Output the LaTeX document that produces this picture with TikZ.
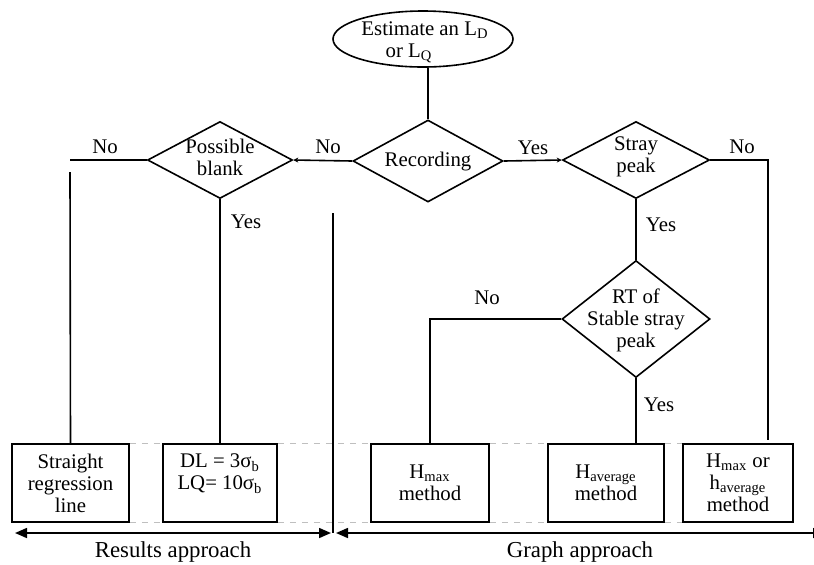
\documentclass[tikz,border=0pt]{standalone}
\usepackage{fontspec}
\setmainfont{Liberation Serif}
\usetikzlibrary{shapes.geometric,arrows.meta}

\begin{document}
\begin{tikzpicture}[x=0.5pt, y=-0.5pt, line width=0.8pt,
    every node/.style={font=\fontsize{10.4}{11}\selectfont},
    decision/.style={draw, diamond, inner sep=0pt},
    result/.style={draw, fill=white, minimum height=39pt, align=center, inner sep=0pt},
    lbl/.style={align=center, inner sep=0pt},
    gap/.style={gray!50, dashed, line width=0.6pt},
    tiny/.style={-{Stealth[length=2.5pt,width=2.5pt]}},
    span/.style={{Triangle[length=6pt,width=5pt]}-{Triangle[length=6pt,width=5pt]}}]

\useasboundingbox (0,0) rectangle (814,564);

% Start
\node[draw, ellipse, minimum width=90pt, minimum height=28pt, inner sep=0pt] (est) at (423,39) {};
\node[lbl] (est-t) at (425,42) {Estimate an L\textsubscript{D}\\or L\textsubscript{Q}\rule{16pt}{0pt}};

% Decisions (diamonds)
\node[decision, minimum width=75pt, minimum height=41pt] (rec) at (428,161) {};
\node[lbl] (rec-t) at (428,162) {Recording};
\node[decision, minimum width=72.5pt, minimum height=38.5pt] (blank) at (220,160) {};
\node[lbl] (blank-t) at (220,157) {Possible\\blank};
\node[decision, minimum width=73.5pt, minimum height=38.5pt] (stray) at (636,160) {};
\node[lbl] (stray-t) at (636,157) {Stray\\peak};
\node[decision, minimum width=74pt, minimum height=58.5pt] (rt) at (636,319) {};
\node[lbl] (rt-t) at (636,320) {RT of\\Stable stray\\peak};

% Rectangles (outcomes)
\node[result, minimum width=58.5pt] (line) at (70.5,483) {Straight\\regression\\line};
\node[result, minimum width=57pt] (dl) at (220,483) {DL = 3σ\textsubscript{b}\\LQ= 10σ\textsubscript{b}\\\mbox{}};
\node[result, minimum width=59pt] (hmax) at (430,483) {H\textsubscript{max}\\method};
\node[result, minimum width=58pt] (havg) at (606,483) {H\textsubscript{average}\\method};
\node[result, minimum width=55pt] (hor) at (738,483) {H\textsubscript{max} or\\h\textsubscript{average}\\method};

\foreach \a/\b in {line/dl, dl/hmax, hmax/havg, havg/hor} {
        \draw[gap] (\a.north east) -- (\b.north west);
        \draw[gap] (\a.south east) -- (\b.south west);
}

% Connectors
\draw (rec.north |- est.south) -- (rec.north);
\draw[tiny] (rec.west) -- (blank.east);
\draw[tiny] (rec.east) -- (stray.west);

\coordinate (noend) at (70,160);
\coordinate (linetop) at (70,172);
\draw (blank.west) -- (noend);
\draw (linetop) -- (line.north);
\draw (blank.south) -- (blank.south |- dl.north);

\coordinate (nocorner) at (768,160);
\coordinate (noend2) at (768,440);
\draw (stray.east) -- (nocorner) -- (noend2);
\draw (stray.south) -- (rt.north);
\draw (rt.west) -| (hmax.north);
\draw (rt.south) -- (rt.south |- havg.north);

\node[lbl] (no-rec) at (328,147) {No};
\node[lbl] (no-blank) at (105,147) {No};
\node[lbl] (yes-blank) at (246,222) {Yes};
\node[lbl] (yes-rec) at (533,148) {Yes};
\node[lbl] (no-stray) at (742,147) {No};
\node[lbl] (yes-stray) at (661,225) {Yes};
\node[lbl] (no-rt) at (487,298) {No};
\node[lbl] (yes-rt) at (659,405) {Yes};

% Approaches
\coordinate (divtop) at (333,213);
\coordinate (divbot) at (333,533);
\draw (divtop) -- (divbot);

\coordinate (resl) at (15,533);
\coordinate (resr) at (331,533);
\coordinate (grl) at (336,533);
\coordinate (grr) at (825,533);
\draw[span] (resl) -- (resr);
\draw[span] (grl) -- (grr);

\node[lbl, font=\fontsize{11.4}{12}\selectfont] (res) at (173,552) {Results approach};
\node[lbl, font=\fontsize{11.4}{12}\selectfont] (gra) at (580,552) {Graph approach};
\end{tikzpicture}
\end{document}
